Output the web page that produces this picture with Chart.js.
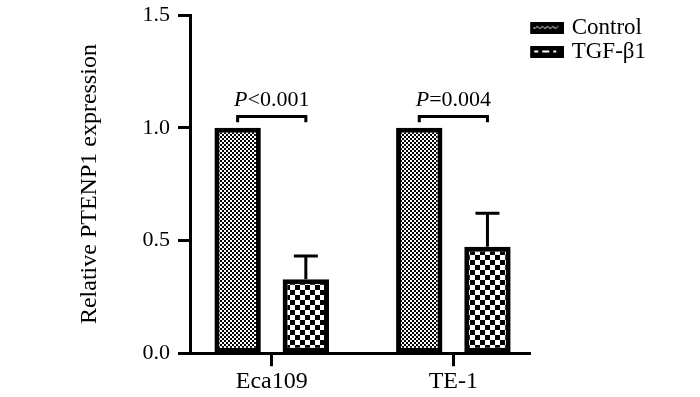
<!DOCTYPE html>
<html>
<head>
<meta charset="utf-8">
<script src="https://cdn.jsdelivr.net/npm/chart.js@4"></script>
<style>
  html, body { margin: 0; padding: 0; background: #fff; }
</style>
</head>
<body>
<canvas id="myBarChart" width="700" height="397"></canvas>
<script>
const categories = ["Eca109", "TE-1"];
const seriesNames = ["Control", "TGF-β1"];
const controlValues = [1.0, 1.0];
const controlErrors = [0, 0];
const tgfValues = [0.328, 0.472];
const tgfErrors = [0.103, 0.149];
const pLabels = ["<0.001", "=0.004"];

const serif = "'Liberation Serif', 'Times New Roman', serif";
const canvas = document.getElementById("myBarChart");
const ctx1 = canvas.getContext("2d");

// checker fill for the bars
function checker(cell) {
  const c = document.createElement("canvas");
  c.width = cell * 2;
  c.height = cell * 2;
  const g = c.getContext("2d");
  g.fillStyle = "#fff";
  g.fillRect(0, 0, c.width, c.height);
  g.fillStyle = "#000";
  g.fillRect(0, 0, cell, cell);
  g.fillRect(cell, cell, cell, cell);
  return ctx1.createPattern(c, "repeat");
}

// little black legend swatches
function legendIcon(kind) {
  const c = document.createElement("canvas");
  c.width = 37;
  c.height = 12;
  const g = c.getContext("2d");
  g.fillStyle = "#000";
  g.fillRect(0, 0, 37, 12);
  g.strokeStyle = "#fff";
  g.fillStyle = "#fff";
  if (kind === "wave") {
    g.lineWidth = 1;
    g.beginPath();
    for (let x = 6; x <= 31; x++) {
      const yy = 6 + Math.sin((x - 6) * 1.2) * 1;
      if (x === 6) g.moveTo(x, yy);
      else g.lineTo(x, yy);
    }
    g.stroke();
  } else {
    g.fillRect(7, 5, 4, 2);
    g.fillRect(15, 5, 7, 2);
    g.fillRect(26, 5, 3, 2);
  }
  return c;
}

const legendIcons = [legendIcon("wave"), legendIcon("dash")];

const annotations = {
  id: "annotations",
  afterDatasetsDraw(chart) {
    const ctx = chart.ctx;
    const y = chart.scales.y;
    const metaC = chart.getDatasetMeta(0);
    const metaT = chart.getDatasetMeta(1);
    ctx.save();
    ctx.strokeStyle = "#000";
    ctx.lineWidth = 3;
    [[metaC, controlValues, controlErrors], [metaT, tgfValues, tgfErrors]].forEach(([meta, vals, errs]) => {
      meta.data.forEach((bar, i) => {
        if (!errs[i]) return;
        const top = y.getPixelForValue(vals[i] + errs[i]);
        ctx.beginPath();
        ctx.moveTo(bar.x, bar.y);
        ctx.lineTo(bar.x, top);
        ctx.moveTo(bar.x - 12, top);
        ctx.lineTo(bar.x + 12, top);
        ctx.stroke();
      });
    });

    // significance brackets
    const yb = y.getPixelForValue(1.05);
    const yf = y.getPixelForValue(1.024);
    const yt = y.getPixelForValue(1.096);
    categories.forEach((c, i) => {
      const x0 = metaC.data[i].x;
      const x1 = metaT.data[i].x;
      ctx.beginPath();
      ctx.moveTo(x0, yf);
      ctx.lineTo(x0, yb);
      ctx.lineTo(x1, yb);
      ctx.lineTo(x1, yf);
      ctx.stroke();

      ctx.fillStyle = "#000";
      ctx.textBaseline = "alphabetic";
      ctx.textAlign = "left";
      ctx.font = "italic 22px " + serif;
      const wP = ctx.measureText("P").width;
      ctx.font = "22px " + serif;
      const wR = ctx.measureText(pLabels[i]).width;
      let tx = (x0 + x1) / 2 - (wP + wR) / 2;
      ctx.font = "italic 22px " + serif;
      ctx.fillText("P", tx, yt);
      ctx.font = "22px " + serif;
      ctx.fillText(pLabels[i], tx + wP, yt);
    });
    ctx.restore();
  },
};

new Chart(ctx1, {
  type: "bar",
  data: {
    datasets: [
      {
        label: seriesNames[0],
        data: controlValues.map((v, i) => ({ x: i, y: v })),
        backgroundColor: checker(2),
      },
      {
        label: seriesNames[1],
        data: tgfValues.map((v, i) => ({ x: i, y: v })),
        backgroundColor: checker(5),
      },
    ],
  },
  options: {
    responsive: false,
    animation: false,
    devicePixelRatio: 1,
    layout: { padding: { left: 75.6, top: 15, right: 44, bottom: 0 } },
    datasets: {
      bar: {
        borderColor: "#000",
        borderWidth: 5,
        borderSkipped: false,
        categoryPercentage: 0.751,
        barPercentage: 0.68,
      },
    },
    scales: {
      x: {
        type: "linear",
        offset: false,
        min: -0.45,
        max: 1.423,
        grid: { offset: false, drawOnChartArea: false, tickLength: 13, tickWidth: 3, tickColor: "#000" },
        border: { color: "#000", width: 3 },
        ticks: {
          stepSize: 1,
          includeBounds: false,
          padding: 1,
          color: "#000",
          font: { family: serif, size: 24 },
          callback: (v) => categories[v] ?? "",
        },
        afterBuildTicks: (s) => {
          s.ticks = s.ticks.filter((t) => Number.isInteger(t.value) && categories[t.value] !== undefined);
        },
      },
      y: {
        min: 0,
        max: 1.5,
        grid: { drawOnChartArea: false, tickLength: 12, tickWidth: 3, tickColor: "#000" },
        border: { color: "#000", width: 3 },
        ticks: {
          stepSize: 0.5,
          padding: 8,
          color: "#000",
          font: { family: serif, size: 22 },
          callback: (v) => v.toFixed(1),
        },
        title: {
          display: true,
          text: "Relative PTENP1 expression",
          color: "#000",
          font: { family: serif, size: 24 },
          padding: { top: 0, bottom: 0 },
        },
        afterFit: (s) => {
          s.width = 114.4;
          s.paddingTop = 0;
          s.paddingBottom = 0;
        },
      },
    },
    plugins: {
      tooltip: { enabled: false },
      legend: {
        position: "right",
        align: "start",
        fullSize: false,
        labels: {
          usePointStyle: true,
          pointStyleWidth: 29,
          padding: 1,
          color: "#000",
          font: { family: serif, size: 23 },
          generateLabels: () =>
            seriesNames.map((name, i) => ({
              text: name,
              pointStyle: legendIcons[i],
              datasetIndex: i,
              fillStyle: "#000",
              strokeStyle: "#000",
              lineWidth: 0,
              hidden: false,
            })),
        },
      },
    },
  },
  plugins: [annotations],
});
</script>
</body>
</html>
